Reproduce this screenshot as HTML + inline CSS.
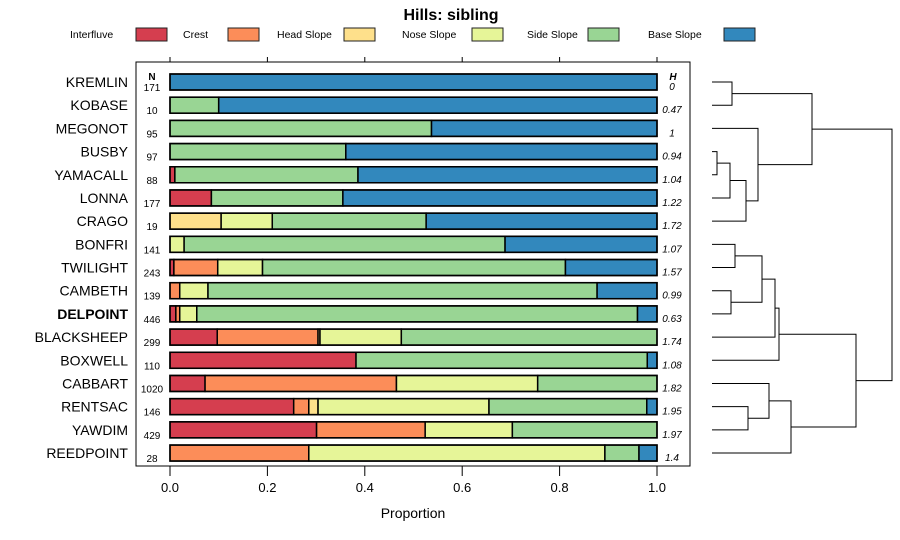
<!DOCTYPE html>
<html><head><meta charset="utf-8"><style>
body{margin:0;background:#fff;}
svg{display:block;font-family:"Liberation Sans",sans-serif;}
</style></head><body>
<svg id="chart" width="900" height="540" viewBox="0 0 900 540">
<text x="451" y="20" text-anchor="middle" font-size="16" font-weight="bold">Hills: sibling</text>
<g id="legend"></g>
<rect x="136" y="62" width="554" height="404" fill="none" stroke="#000" stroke-width="1"/>
<g id="bars"></g>
<g id="labels"></g>
<g id="axis"></g>
<g id="dendro" stroke="#000" stroke-width="1" fill="none"></g>
<text x="413" y="518" text-anchor="middle" font-size="14">Proportion</text>
<text x="152" y="80" text-anchor="middle" font-size="10" font-weight="bold">N</text>
<text x="673" y="80" text-anchor="middle" font-size="10" font-weight="bold" font-style="italic">H</text>
</svg>
<script>
const categories=["Interfluve","Crest","Head Slope","Nose Slope","Side Slope","Base Slope"];
const colors=["#d53e4f","#fc8d59","#fee08b","#e6f598","#99d594","#3288bd"];
const rows=["KREMLIN","KOBASE","MEGONOT","BUSBY","YAMACALL","LONNA","CRAGO","BONFRI","TWILIGHT","CAMBETH","DELPOINT","BLACKSHEEP","BOXWELL","CABBART","RENTSAC","YAWDIM","REEDPOINT"];
const nValues=[171,10,95,97,88,177,19,141,243,139,446,299,110,1020,146,429,28];
const hValues=["0","0.47","1","0.94","1.04","1.22","1.72","1.07","1.57","0.99","0.63","1.74","1.08","1.82","1.95","1.97","1.4"];
const interfluve=[0,0,0,0,0.01,0.085,0,0,0.008,0,0.012,0.097,0.382,0.072,0.254,0.301,0];
const crest=[0,0,0,0,0,0,0,0,0.09,0.02,0.008,0.207,0,0.393,0.031,0.223,0.285];
const headSlope=[0,0,0,0,0,0,0.105,0,0,0,0,0.004,0,0,0.019,0,0];
const noseSlope=[0,0,0,0,0,0,0.105,0.029,0.092,0.058,0.035,0.167,0,0.29,0.351,0.179,0.608];
const sideSlope=[0,0.1,0.537,0.361,0.376,0.27,0.316,0.659,0.622,0.799,0.905,0.525,0.598,0.245,0.324,0.297,0.07];
const baseSlope=[1,0.9,0.463,0.639,0.614,0.645,0.474,0.312,0.188,0.123,0.04,0,0.02,0,0.021,0,0.037];
const xTicks=[0,0.2,0.4,0.6,0.8,1.0];
const xTickLabels=["0.0","0.2","0.4","0.6","0.8","1.0"];
const merges=[[0,1,0.2],[3,4,0.05],[17+1,5,0.18],[17+2,6,0.34],[2,17+3,0.46],[17+0,17+4,1.0],[7,8,0.23],[9,10,0.19],[17+6,17+7,0.5],[17+8,11,0.63],[17+9,12,0.67],[14,15,0.36],[13,17+11,0.57],[17+12,16,0.79],[17+10,17+13,1.44],[17+5,17+14,1.8]];

const NS="http://www.w3.org/2000/svg";
function mk(tag,attrs,parent){const e=document.createElementNS(NS,tag);for(const k in attrs)e.setAttribute(k,attrs[k]);parent.appendChild(e);return e;}
const x0=170,x1=657;
const xScale=v=>x0+v*(x1-x0);
const yScale=i=>82+i*23.19;
const series=[interfluve,crest,headSlope,noseSlope,sideSlope,baseSlope];

const lg=document.getElementById('legend');
const legX=[[70,136],[183,228],[277,344],[402,472],[527,588],[648,724]];
categories.forEach((c,i)=>{
  const t=mk('text',{x:legX[i][0],y:38,'font-size':10.5},lg);t.textContent=c;
  
  
  const r=mk('rect',{x:legX[i][1],y:28,width:31,height:13,fill:colors[i],stroke:'#222','stroke-width':1},lg);
  
  
});

const bg=document.getElementById('bars');
const lab=document.getElementById('labels');
rows.forEach((name,i)=>{
  const yc=yScale(i);
  let cum=0;
  series.forEach((s,k)=>{
    const v=s[i];
    if(v>0){
      const r=mk('rect',{x:xScale(cum),y:yc-8,width:xScale(cum+v)-xScale(cum),height:16,fill:colors[k],stroke:'#000','stroke-width':1.5},bg);
      
      
    }
    cum+=v;
  });
  const frame=mk('rect',{x:xScale(0),y:yc-8,width:xScale(cum)-xScale(0),height:16,fill:'none',stroke:'#000','stroke-width':1.5},bg);
  
  
  const t=mk('text',{x:128,y:yc+5,'text-anchor':'end','font-size':14},lab);
  if(name==='DELPOINT')t.setAttribute('font-weight','bold');
  t.textContent=name;
  
  
  const n=mk('text',{x:152,y:yc+9,'text-anchor':'middle','font-size':10},lab);
  n.textContent=nValues[i];
  
  
  const h=mk('text',{x:672,y:yc+8,'text-anchor':'middle','font-size':10,'font-style':'italic'},lab);
  h.textContent=hValues[i];
  
  
});

const ax=document.getElementById('axis');
xTicks.forEach((v,i)=>{
  const x=xScale(v);
  const l1=mk('line',{x1:x,x2:x,y1:466,y2:476,stroke:'#000'},ax);
  
  
  const l2=mk('line',{x1:x,x2:x,y1:57,y2:62,stroke:'#000'},ax);
  
  
  const t=mk('text',{x:x,y:492,'text-anchor':'middle','font-size':13},ax);
  t.textContent=xTickLabels[i];
  
  
});

const dg=document.getElementById('dendro');
const dLeft=712,dRight=892,maxH=1.8;
const hScale=h=>dLeft+h/maxH*(dRight-dLeft);
const nodes=rows.map((r,i)=>({x:dLeft,y:yScale(i)}));
merges.forEach((m,j)=>{
  const a=nodes[m[0]],b=nodes[m[1]],hx=hScale(m[2]);
  const p=mk('path',{d:`M${a.x},${a.y}H${hx}V${b.y}H${b.x}`},dg);
  
  
  nodes.push({x:hx,y:(a.y+b.y)/2});
});
</script>
</body></html>
